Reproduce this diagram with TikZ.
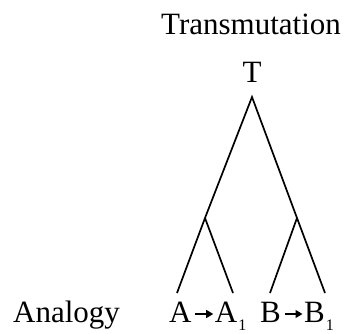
\documentclass[tikz,border=0pt]{standalone}
\usepackage{fontspec}
\setmainfont{Liberation Serif}
\usetikzlibrary{positioning, arrows.meta}
\tikzset{
	bigtext/.style={font=\fontsize{31}{37}\selectfont, inner sep=0pt, anchor=base},
	branch/.style={line width=1.7pt}
}
\newcommand{\smallto}{\tikz[baseline=0pt]\draw[line width=1.3pt, -{Triangle[length=7pt,width=8pt]}] (0pt,8pt) -- (18pt,8pt);}
\newcommand{\pairto}[2]{#1\kern3pt\smallto\kern1pt#2\kern1pt\raisebox{-8pt}{\fontsize{16}{18}\selectfont 1}}

\begin{document}
\begin{tikzpicture}[x=1pt, y=-1pt]
      \useasboundingbox (0,0) rectangle (348,334);
      % labels
      \node[bigtext] (title) at (251,35) {Transmutation};
      \node[bigtext] (top) at (252,83) {T};
      \node[bigtext, anchor=base west] (analogy) at (13,322) {Analogy};
      \node[bigtext, anchor=base west] (pa) at (169,322) {\pairto{A}{A}};
      \node[bigtext, anchor=base west] (pb) at (260,322) {\pairto{B}{B}};
      % tree
      \coordinate (apex) at (252,97);
      \coordinate (jl) at (205,218);
      \coordinate (jr) at (297,218);
      \coordinate (l1) at (177,293);
      \coordinate (l2) at (233,293);
      \coordinate (l3) at (270,293);
      \coordinate (l4) at (325,293);
      \draw[branch] (l1) -- (jl) -- (apex) -- (jr) -- (l4);
      \draw[branch] (jl) -- (l2);
      \draw[branch] (jr) -- (l3);
    \end{tikzpicture}
\end{document}
